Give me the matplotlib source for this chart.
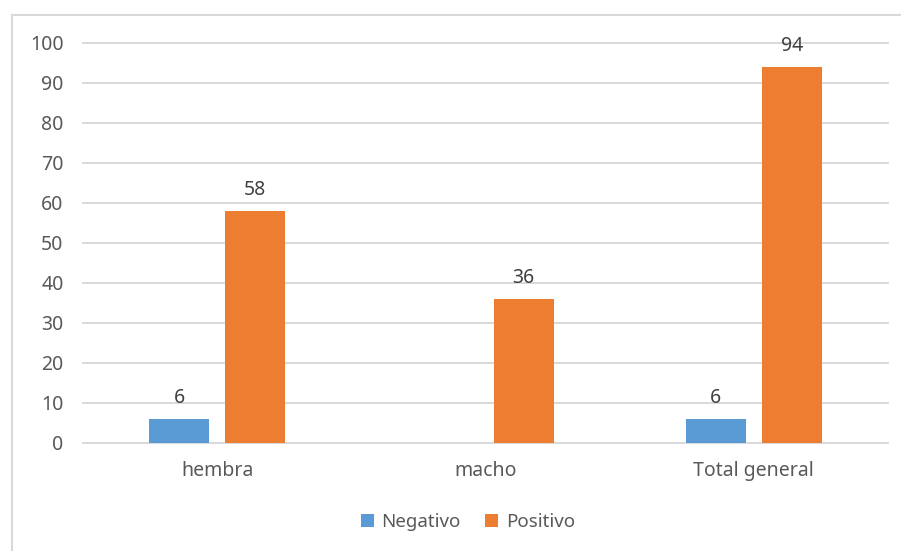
import matplotlib
matplotlib.use("Agg")
import matplotlib.pyplot as plt
from matplotlib.patches import Patch
from matplotlib.lines import Line2D
import numpy as np

categories = ["hembra", "macho", "Total general"]
negativo = [6, None, 6]
positivo = [58, 36, 94]
y_ticks = [0, 10, 20, 30, 40, 50, 60, 70, 80, 90, 100]

blue = "#5B9BD5"
orange = "#ED7D31"
grid_c = "#D9D9D9"
text_c = "#595959"
label_c = "#404040"

plt.rcParams["font.family"] = ["Noto Sans", "DejaVu Sans"]

fig = plt.figure(figsize=(9.01, 5.51), dpi=100)
ax = fig.add_axes([83 / 901, 1 - 443 / 551, (888 - 83) / 901, (443 - 42.5) / 551])

x = np.arange(len(categories))
width = 0.224
offset = 0.142

for i, (n, p) in enumerate(zip(negativo, positivo)):
    if n is not None:
        ax.bar(x[i] - offset, n, width, color=blue, zorder=3)
        ax.annotate(str(n), (x[i] - offset, n), xytext=(0, 11.5),
                    textcoords="offset points", ha="center", va="baseline",
                    fontsize=14, color=label_c)
    ax.bar(x[i] + offset, p, width, color=orange, zorder=3)
    ax.annotate(str(p), (x[i] + offset, p), xytext=(0, 11.5),
                textcoords="offset points", ha="center", va="baseline",
                fontsize=14, color=label_c)

ax.set_xlim(-0.5, 2.5)
ax.set_ylim(0, 100)
ax.set_yticks(y_ticks)
ax.set_xticks(x)
ax.set_xticklabels(categories)
for yv in y_ticks:
    ax.axhline(yv, color=grid_c, lw=1.4, zorder=1, clip_on=False)

for s in ax.spines.values():
    s.set_visible(False)
ax.tick_params(axis="both", length=0, labelsize=14, labelcolor=text_c)
ax.tick_params(axis="y", pad=14)
ax.tick_params(axis="x", pad=13)

handles = [Patch(facecolor=blue, edgecolor="none", label="Negativo"),
           Patch(facecolor=orange, edgecolor="none", label="Positivo")]
fig.legend(handles=handles, loc="center", bbox_to_anchor=(468 / 901, 1 - 522 / 551),
           ncol=2, frameon=False, fontsize=13.5, labelcolor=text_c,
           handlelength=0.7, handleheight=0.7, handletextpad=0.4, columnspacing=1.3)

# outer chart border (top and left edges)
fig.add_artist(Line2D([12 / 901, 12 / 901], [0, 1 - 15 / 551], transform=fig.transFigure,
                      color=grid_c, lw=1.5))
fig.add_artist(Line2D([12 / 901, 1], [1 - 15 / 551, 1 - 15 / 551], transform=fig.transFigure,
                      color=grid_c, lw=1.5))

fig.savefig("out.png", dpi=100)
